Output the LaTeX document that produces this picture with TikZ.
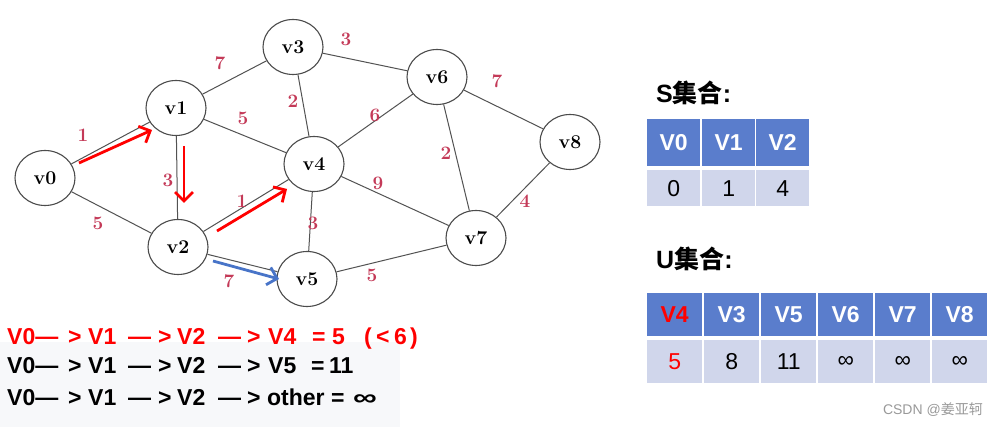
\documentclass[tikz,border=0pt]{standalone}
\usepackage{fontspec}
\usepackage{graphicx}
\newfontfamily\arial{Liberation Sans}
\newfontfamily\cjk{Noto Sans CJK SC}
\usetikzlibrary{arrows.meta,shapes.geometric}
\definecolor{wtred}{RGB}{196,58,88}
\definecolor{hdblue}{RGB}{90,125,204}
\definecolor{cellbg}{RGB}{208,214,235}
\definecolor{arrblue}{RGB}{72,116,200}
\definecolor{panel}{RGB}{247,248,250}
\newcommand{\pcs}[2]{\makebox[#1pt][l]{#2}}
\begin{document}
\begin{tikzpicture}[x=1pt,y=-1pt,
  vtx/.style={draw=black!70, line width=1.1pt, ellipse, minimum width=60pt, minimum height=55pt, inner sep=0pt, font=\fontsize{19.5}{19.5}\selectfont\bfseries},
  edge/.style={draw=black!68, line width=1pt},
  wt/.style={text=wtred, font=\fontsize{19}{19}\selectfont\bfseries, inner sep=0pt},
  redarr/.style={draw=red, line width=2.8pt, -{Straight Barb[length=9pt,width=18pt]}},
  bluearr/.style={draw=arrblue, line width=2.8pt, -{Straight Barb[length=9pt,width=18pt]}},
  hd/.style={fill=hdblue, text=white, inner sep=0pt, anchor=north west, font=\arial\fontsize{23}{23}\selectfont\bfseries},
  dc/.style={fill=cellbg, text=black, inner sep=0pt, anchor=north west, font=\arial\fontsize{23}{23}\selectfont},
  title/.style={anchor=base west, inner sep=0pt, font=\fontsize{25}{25}\selectfont\bfseries},
  pathtxt/.style={anchor=base west, inner sep=0pt, font=\arial\fontsize{23}{23}\selectfont\bfseries}
]
\useasboundingbox (0,0) rectangle (999,427);
\fill[white] (0,0) rectangle (999,427);
\fill[panel] (0,342) rectangle (400,427);

% vertices
\node[vtx] (v0) at (45,178) {v0};
\node[vtx] (v1) at (176,108) {v1};
\node[vtx] (v2) at (178,247) {v2};
\node[vtx] (v3) at (293,47) {v3};
\node[vtx] (v4) at (314,164) {v4};
\node[vtx] (v5) at (307,279) {v5};
\node[vtx] (v6) at (437,77) {v6};
\node[vtx] (v7) at (476,238) {v7};
\node[vtx] (v8) at (570,142) {v8};

% edges
\draw[edge] (v0) -- (v1);
\draw[edge] (v0) -- (v2);
\draw[edge] (v1) -- (v2);
\draw[edge] (v1) -- (v3);
\draw[edge] (v1) -- (v4);
\draw[edge] (v2) -- (v4);
\draw[edge] (v2) -- (v5);
\draw[edge] (v3) -- (v4);
\draw[edge] (v3) -- (v6);
\draw[edge] (v4) -- (v5);
\draw[edge] (v4) -- (v6);
\draw[edge] (v4) -- (v7);
\draw[edge] (v5) -- (v7);
\draw[edge] (v6) -- (v7);
\draw[edge] (v6) -- (v8);
\draw[edge] (v7) -- (v8);

% weights
\node[wt] (w01) at (83,135) {1};
\node[wt] (w13) at (220,63) {7};
\node[wt] (w14) at (243,118) {5};
\node[wt] (w34) at (293,101) {2};
\node[wt] (w12) at (168,180) {3};
\node[wt] (w24) at (242,201) {1};
\node[wt] (w02) at (98,223) {5};
\node[wt] (w25) at (229,281) {7};
\node[wt] (w45) at (313,223) {3};
\node[wt] (w36) at (346,39) {3};
\node[wt] (w68) at (497,81) {7};
\node[wt] (w46) at (375,115) {6};
\node[wt] (w67) at (446,153) {2};
\node[wt] (w47) at (378,183) {9};
\node[wt] (w78) at (525,201) {4};
\node[wt] (w57) at (372,275) {5};

% path arrows
\coordinate (a0s) at (79,163); \coordinate (a0e) at (152,130);
\coordinate (a1s) at (184,146); \coordinate (a1e) at (184,203);
\coordinate (a2s) at (217,231); \coordinate (a2e) at (287,189);
\coordinate (b0s) at (213,261); \coordinate (b0e) at (279,279);
\draw[redarr] (a0s) -- (a0e);
\draw[redarr] (a1s) -- (a1e);
\draw[redarr] (a2s) -- (a2e);
\draw[bluearr] (b0s) -- (b0e);

% path text
\node[pathtxt, text=red] (p1) at (7,345) {\pcs{61}{V0—}\pcs{20}{>}\pcs{40}{V1}\pcs{30}{—}\pcs{19}{>}\pcs{41}{V2}\pcs{29}{—}\pcs{21}{>}\pcs{44}{V4}\pcs{20}{=}\pcs{32}{5}\pcs{12}{(}\pcs{18}{<}\pcs{16}{6})};
\node[pathtxt] (p2) at (7,374) {\pcs{61}{V0—}\pcs{20}{>}\pcs{40}{V1}\pcs{30}{—}\pcs{19}{>}\pcs{41}{V2}\pcs{29}{—}\pcs{21}{>}\pcs{43}{V5}\pcs{18}{=}11};
\node[pathtxt] (p3) at (7,406) {\pcs{61}{V0—}\pcs{20}{>}\pcs{40}{V1}\pcs{30}{—}\pcs{19}{>}\pcs{41}{V2}\pcs{29}{—}\pcs{20}{>}\pcs{64}{other}\pcs{22}{=}\scalebox{1.45}[1]{∞}};

% S set
\node[title] (st) at (656,103) {\arial S\cjk 集合\arial :};
\node[hd, minimum width=53pt, minimum height=47pt] (s0h) at (647,119) {V0};
\node[hd, minimum width=53pt, minimum height=47pt] (s1h) at (702,119) {V1};
\node[hd, minimum width=53pt, minimum height=47pt] (s2h) at (756,119) {V2};
\node[dc, minimum width=53pt, minimum height=36pt] (s0d) at (647,170) {0};
\node[dc, minimum width=53pt, minimum height=36pt] (s1d) at (702,170) {1};
\node[dc, minimum width=53pt, minimum height=36pt] (s2d) at (756,170) {4};

% U set
\node[title] (ut) at (656,269) {\arial U\cjk 集合\arial :};
\node[hd, minimum width=55pt, minimum height=43pt, text=red] (u0h) at (647,293) {V4};
\node[hd, minimum width=55pt, minimum height=43pt] (u1h) at (704,293) {V3};
\node[hd, minimum width=55pt, minimum height=43pt] (u2h) at (761,293) {V5};
\node[hd, minimum width=55pt, minimum height=43pt] (u3h) at (818,293) {V6};
\node[hd, minimum width=55pt, minimum height=43pt] (u4h) at (875,293) {V7};
\node[hd, minimum width=55pt, minimum height=43pt] (u5h) at (932,293) {V8};
\node[dc, minimum width=55pt, minimum height=43pt, text=red] (u0d) at (647,340) {5};
\node[dc, minimum width=55pt, minimum height=43pt] (u1d) at (704,340) {8};
\node[dc, minimum width=55pt, minimum height=43pt] (u2d) at (761,340) {11};
\node[dc, minimum width=55pt, minimum height=43pt] (u3d) at (818,340) {∞};
\node[dc, minimum width=55pt, minimum height=43pt] (u4d) at (875,340) {∞};
\node[dc, minimum width=55pt, minimum height=43pt] (u5d) at (932,340) {∞};

% watermark
\node[anchor=base east, inner sep=0pt, text=black!40, font=\arial\fontsize{14}{14}\selectfont] (wm) at (983,415) {CSDN @\cjk 姜亚轲};
\end{tikzpicture}
\end{document}
